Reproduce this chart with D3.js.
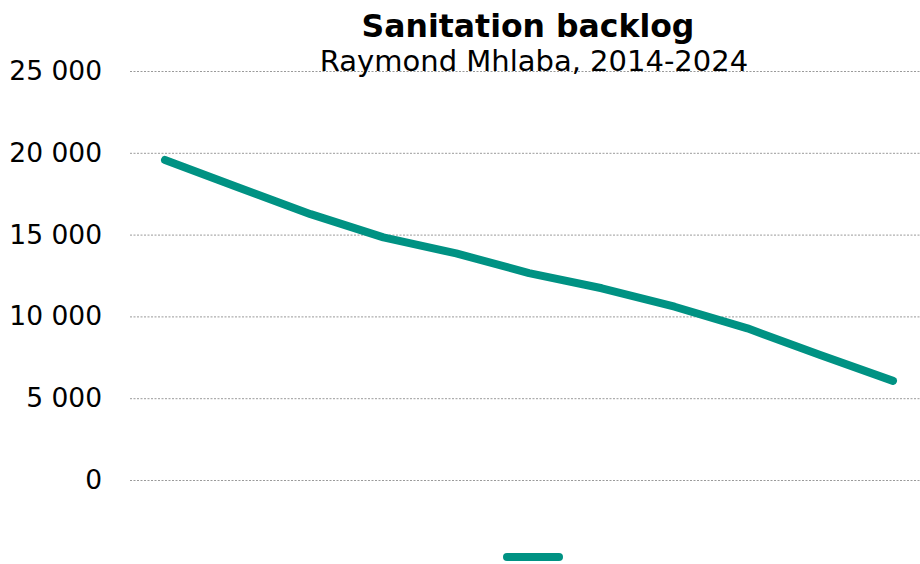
<!DOCTYPE html>
<html>
<head>
<meta charset="utf-8">
<script src="https://cdn.jsdelivr.net/npm/d3@7"></script>
<style>
  html, body { margin: 0; padding: 0; background: #fff; }
  svg { display: block; font-family: "DejaVu Sans", Verdana, sans-serif; }
</style>
</head>
<body>
<svg id="chart" width="920" height="564"></svg>
<script>
// Sanitation backlog, Raymond Mhlaba (households)
const years = [2014, 2015, 2016, 2017, 2018, 2019, 2020, 2021, 2022, 2023, 2024];
const backlog = [19560, 17900, 16250, 14830, 13850, 12650, 11720, 10590, 9270, 7640, 6060];
const yTicks = [0, 5000, 10000, 15000, 20000, 25000];
const seriesName = "";

const svg = d3.select("#chart");
const W = 920, H = 564;
const color = "#009283";

const x = d3.scalePoint().domain(years).range([165, 893]);
const y = d3.scaleLinear().domain([0, 25000]).range([480, 71]);

const fmt = v => d3.format(",")(v).replace(/,/g, " ");

// gridlines + tick labels
const yAxis = d3.axisLeft(y).tickValues(yTicks).tickSize(-(W - 130)).tickFormat(fmt).tickPadding(28);
const gy = svg.append("g").attr("transform", "translate(130,0)").call(yAxis);
gy.select(".domain").remove();
gy.selectAll(".tick line")
  .attr("stroke", "#9a9a9a")
  .attr("stroke-width", 1)
  .attr("stroke-dasharray", "2,1.5");
gy.selectAll(".tick text")
  .attr("fill", "#000")
  .attr("font-size", "26.5px")
  .attr("font-family", "\"DejaVu Sans\", Verdana, sans-serif");

// series line
const line = d3.line()
  .x((d, i) => x(years[i]))
  .y(d => y(d));
svg.append("path")
  .datum(backlog)
  .attr("fill", "none")
  .attr("stroke", color)
  .attr("stroke-width", 8)
  .attr("stroke-linecap", "round")
  .attr("stroke-linejoin", "round")
  .attr("d", line);

// title
svg.append("text")
  .attr("x", 528).attr("y", 36.5)
  .attr("text-anchor", "middle")
  .attr("font-size", "31.5px")
  .attr("font-weight", "bold")
  .text("Sanitation backlog");
svg.append("text")
  .attr("x", 534).attr("y", 71)
  .attr("text-anchor", "middle")
  .attr("font-size", "29px")
  .text("Raymond Mhlaba, 2014-2024");

// legend
const lg = svg.append("g").attr("transform", "translate(533,557)");
lg.append("line")
  .attr("x1", -26).attr("x2", 26)
  .attr("stroke", color)
  .attr("stroke-width", 8)
  .attr("stroke-linecap", "round");
lg.append("text").attr("x", 36).attr("y", 8).attr("font-size", "22px").text(seriesName);
</script>
</body>
</html>
